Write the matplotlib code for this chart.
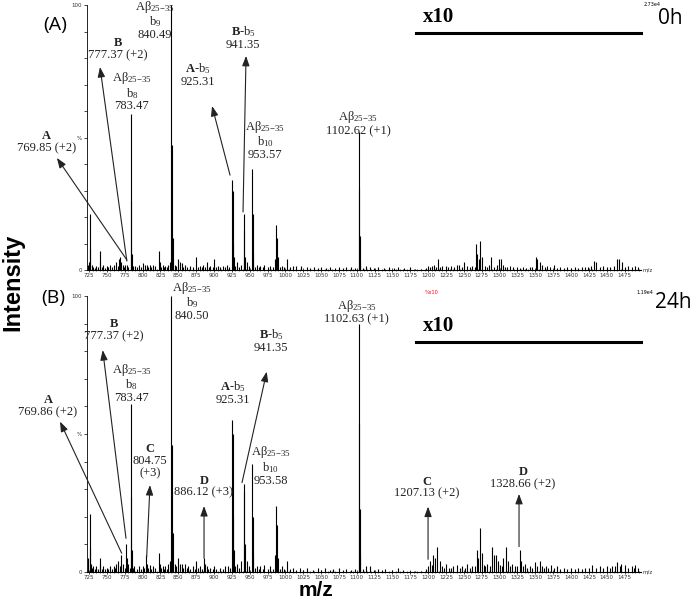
import matplotlib.pyplot as plt
import numpy as np

plt.rcParams['font.family'] = ['Liberation Serif', 'DejaVu Serif']
plt.rcParams['mathtext.fontset'] = 'custom'
plt.rcParams['mathtext.rm'] = 'Liberation Serif'
plt.rcParams['mathtext.it'] = 'Liberation Serif:italic'
plt.rcParams['mathtext.bf'] = 'Liberation Serif:bold'

# peak list (m/z, relative intensity %)
peaks_0h = [
    (723, 2), (725, 3), (726, 21), (727, 8), (729, 2), (735, 1.5), (740, 7), (741, 3),
    (745, 2), (750, 1.5), (755, 2), (760, 2), (763, 3), (767, 4), (769, 5), (770, 3),
    (772, 2), (776, 2), (778, 2), (783.5, 59), (784, 26), (785, 6), (790, 1.5), (795, 2),
    (800, 2.5), (803, 2), (806, 2), (810, 2), (815, 2), (823, 7), (824, 3), (828, 2),
    (832, 1.5), (836, 2), (838, 3), (840.5, 100), (841, 47), (842, 12), (845, 2),
    (850, 4), (852, 3), (855, 2.5), (860, 2), (866, 1.5), (875, 5), (880, 1.5),
    (885, 2), (890, 3), (895, 1.5), (900, 4), (905, 1.5), (912, 1.5), (918, 2),
    (925.3, 34), (926, 30), (927, 10), (928, 5), (932, 3), (938, 2), (941.4, 21),
    (942, 15), (943, 5), (946, 3), (953.6, 38), (954, 21), (955, 6), (960, 2),
    (965, 1.5), (970, 2), (978, 1.5), (985, 4), (987, 17), (988, 12), (989, 5),
    (995, 1.5), (1002, 4), (1010, 1.5), (1015, 1.5), (1022, 1.5), (1030, 1),
    (1040, 1), (1050, 1), (1063, 1), (1075, 1), (1085, 1), (1092, 1), (1102.6, 52),
    (1103, 31), (1104, 13), (1105, 3), (1113, 1.5), (1118, 1), (1130, 1), (1145, 1),
    (1158, 1), (1175, 1), (1190, 0.5), (1200, 1.5), (1205, 1.5), (1208, 2), (1214, 4),
    (1220, 1.5), (1225, 1.5), (1232, 1.5), (1240, 2), (1243, 2), (1250, 3), (1255, 1.5),
    (1262, 1.5), (1267, 10), (1269, 6), (1271, 4), (1273, 11), (1275, 5), (1285, 2),
    (1288, 5), (1296, 2), (1299, 4), (1302, 4), (1305, 2), (1315, 1.5), (1325, 1),
    (1333, 1), (1351, 5), (1353, 4), (1356, 3), (1360, 2), (1367, 1.5), (1376, 2),
    (1385, 1), (1395, 1), (1405, 1), (1415, 1), (1428, 1.5), (1432, 3.5), (1435, 3),
    (1445, 1.5), (1450, 1), (1460, 1.5), (1464, 4), (1467, 4), (1471, 3), (1480, 1.5),
    (1490, 1.5),
]
# low-level background bumps (0h)
noise_0h = [
    (724, 1), (731, 1.2), (733, 0.8), (737, 1), (743, 1.2), (748, 0.8), (752, 1),
    (757, 1.2), (765, 1.5), (774, 1.2), (780, 1), (787, 1.5), (792, 1), (798, 1),
    (808, 1.2), (812, 1), (818, 1.5), (826, 1.2), (830, 1), (834, 1), (847, 1.5),
    (857, 1.2), (862, 1), (870, 1), (878, 1.2), (883, 1), (888, 1), (893, 1),
    (898, 1), (903, 1), (908, 1), (915, 1), (921, 1.2), (930, 1.5), (935, 1.2),
    (949, 1.5), (957, 1.2), (963, 1), (968, 1), (975, 1), (982, 1), (992, 1),
    (998, 1), (1006, 1), (1035, 0.6), (1045, 0.6), (1057, 0.6), (1069, 0.6),
    (1080, 0.6), (1097, 0.8), (1108, 0.8), (1124, 0.6), (1138, 0.6), (1152, 0.6),
    (1166, 0.6), (1182, 0.4), (1197, 0.8), (1202, 1), (1211, 1.2), (1217, 1),
    (1228, 1), (1236, 1), (1247, 1.2), (1258, 1), (1265, 1.2), (1279, 1.5), (1282, 1.2),
    (1292, 1.2), (1308, 1.2), (1311, 1), (1319, 1), (1329, 0.8), (1337, 0.8),
    (1342, 1), (1346, 1.2), (1363, 1.2), (1371, 1), (1380, 0.8), (1390, 0.8),
    (1400, 0.8), (1410, 0.8), (1420, 1), (1424, 1), (1440, 1.2), (1455, 1),
    (1475, 1.2), (1485, 1), (1494, 1),
]

peaks_24h = [
    (724, 5), (726, 21), (727, 9), (728, 3), (731, 2), (735, 2), (740, 5), (741, 3),
    (745, 2), (750, 1.5), (755, 2), (760, 2), (763, 3), (766, 4), (769.9, 6), (770, 3),
    (773, 3), (777.4, 10), (778, 5), (780, 3), (783.5, 61), (784, 27), (785, 8),
    (788, 2), (795, 2), (800, 2), (804.8, 6), (806, 3), (810, 2.5), (815, 2), (823, 7),
    (824, 3), (828, 2), (832, 2), (836, 3), (838, 4), (840.5, 100), (841, 46), (842, 14),
    (845, 3), (850, 5), (852, 3), (855, 3), (860, 3), (864, 2), (870, 2), (875, 4),
    (880, 2), (886.1, 5), (887, 3), (890, 2), (895, 1.5), (900, 2), (908, 1.5),
    (915, 2), (919, 2), (925.3, 55), (926, 50), (927, 20), (928, 8), (932, 3), (938, 4),
    (941.4, 32), (942, 29), (943, 10), (946, 4), (953.6, 39), (954, 20), (955, 6),
    (960, 2), (965, 2), (970, 2.5), (978, 2), (985, 6), (987, 24), (988, 17), (989, 5),
    (995, 2), (1002, 4), (1010, 1.5), (1020, 1.5), (1030, 1.5), (1045, 1.5),
    (1055, 1.5), (1067, 1), (1075, 1.5), (1085, 1), (1102.6, 90), (1103, 54),
    (1104, 23), (1105, 6), (1113, 2), (1118, 2), (1130, 1), (1140, 1), (1158, 1.5),
    (1175, 0.5), (1190, 0.5), (1200, 2), (1203, 4), (1207, 6), (1210, 5), (1213, 9),
    (1216, 4), (1225, 3), (1235, 2), (1240, 2.5), (1248, 2), (1255, 3), (1262, 2),
    (1268, 8), (1270, 5), (1273, 16), (1275, 7), (1283, 3), (1289, 9), (1292, 6),
    (1295, 6), (1298, 4), (1305, 5), (1309, 9), (1312, 4), (1318, 3), (1322, 2),
    (1328.7, 8), (1330, 4), (1336, 3), (1342, 2), (1350, 3.5), (1356, 4), (1360, 2),
    (1365, 2), (1372, 2.5), (1380, 2), (1390, 1.5), (1400, 1.5), (1410, 1.5),
    (1420, 1.5), (1430, 2.5), (1440, 2), (1450, 2), (1458, 2), (1465, 3.5), (1470, 3),
    (1475, 2.5), (1485, 2), (1490, 2.5),
]
# low-level background bumps (24h)
noise_24h = [
    (729, 1.5), (733, 1.2), (737, 1.2), (743, 1.2), (748, 1), (752, 1.2), (757, 1.2),
    (762, 1.5), (768, 2), (775, 1.5), (782, 1.5), (787, 1.5), (792, 1.2), (798, 1.2),
    (802, 1.5), (808, 1.5), (812, 1.2), (818, 1.5), (826, 1.5), (830, 1.2), (834, 1.2),
    (847, 2), (857, 1.5), (862, 1.5), (867, 1.2), (873, 1.2), (878, 1.5), (883, 1.2),
    (892, 1.2), (898, 1), (903, 1), (912, 1), (922, 1.5), (930, 2), (935, 1.5),
    (949, 2), (957, 1.5), (963, 1.2), (968, 1.2), (975, 1.2), (982, 1.2), (992, 1.2),
    (998, 1), (1006, 1), (1015, 0.8), (1025, 0.8), (1038, 0.8), (1050, 0.8),
    (1062, 0.8), (1080, 0.8), (1092, 0.8), (1097, 1), (1108, 1), (1124, 0.8),
    (1135, 0.6), (1150, 0.6), (1165, 0.6), (1182, 0.4), (1197, 1), (1205, 2.5),
    (1219, 2), (1222, 1.5), (1229, 1.5), (1232, 1.5), (1244, 1.5), (1251, 1.5),
    (1258, 1.5), (1265, 2), (1278, 2.5), (1280, 2), (1286, 2), (1301, 2.5), (1303, 2),
    (1315, 2), (1325, 2), (1333, 2), (1339, 1.5), (1346, 1.5), (1353, 2), (1362, 1.5),
    (1368, 1.5), (1376, 1.5), (1385, 1.2), (1395, 1.2), (1405, 1.2), (1415, 1.2),
    (1425, 1.5), (1435, 1.5), (1445, 1.5), (1455, 1.5), (1462, 2), (1468, 2),
    (1480, 1.5), (1488, 1.5), (1494, 1.5),
]

x_ticks = list(range(725, 1476, 25))
ab = 'Aβ$_{25\\mathrm{-}35}$'

fig = plt.figure(figsize=(6.97, 6.0), dpi=100)
W, H = 697, 600
axA = fig.add_axes([87 / W, 330 / H, 554 / W, 265 / H])
axB = fig.add_axes([87 / W, 28 / H, 554 / W, 276 / H])


def style_axis(ax, peaks, noise):
    mz = np.array([p[0] for p in peaks + noise])
    inten = np.array([p[1] for p in peaks + noise])
    ax.vlines(mz, 0, inten, color='black', lw=0.8)
    ax.set_xlim(722.2, 1498)
    ax.set_ylim(0, 100)
    for s in ['top', 'right']:
        ax.spines[s].set_visible(False)
    ax.spines['left'].set_linewidth(0.6)
    ax.spines['bottom'].set_linewidth(0.8)
    ax.set_xticks(x_ticks)
    ax.set_xticklabels([str(t) for t in x_ticks], fontsize=4, family='DejaVu Sans', color='#333333')
    ax.set_xticks(range(725, 1496, 5), minor=True)
    ax.tick_params(axis='x', which='major', direction='inout', length=3, width=0.5, pad=1)
    ax.tick_params(axis='x', which='minor', direction='inout', length=1.5, width=0.4)
    ax.set_yticks(range(0, 101, 10))
    ylabs = [''] * 11
    ylabs[0], ylabs[5], ylabs[10] = '0', '%', '100'
    ax.set_yticklabels(ylabs, fontsize=4, family='DejaVu Sans', color='#333333')
    ax.tick_params(axis='y', direction='out', length=2.5, width=0.5, pad=1)
    ax.text(1500, 0, 'm/z', fontsize=4, family='DejaVu Sans', color='#333333', va='center')


def arrow(ax, tail, head):
    ax.annotate('', xy=head, xytext=tail, annotation_clip=False,
                arrowprops=dict(arrowstyle='-|>,head_length=0.6,head_width=0.22',
                                color='#222222', lw=0.8, shrinkA=0, shrinkB=0))


def label(ax, x, y, s):
    ax.text(x, y, s, ha='center', va='center', fontsize=9, linespacing=0.98, color='#222222')


style_axis(axA, peaks_0h, noise_0h)
style_axis(axB, peaks_24h, noise_24h)

# panel A annotations
label(axA, 666, 48.3, '$\\mathbf{A}$\n769.85 (+2)')
arrow(axA, (778, 3.8), (680, 42.3))
label(axA, 765.6, 83.4, '$\\mathbf{B}$\n777.37 (+2)')
arrow(axA, (778, 3.4), (740.4, 76.6))
label(axA, 785.2, 67.5, ab + '\nb$_8$\n783.47')
label(axA, 817.4, 94.3, ab + '\nb$_9$\n840.49')
label(axA, 877.7, 73.6, '$\\mathbf{A}$-b$_5$\n925.31')
arrow(axA, (922.5, 35.8), (897.3, 61.9))
label(axA, 940.7, 87.7, '$\\mathbf{B}$-b$_5$\n941.35')
arrow(axA, (940.7, 21.9), (944.9, 80.8))
label(axA, 971.5, 49.1, ab + '\nb$_{10}$\n953.57')
label(axA, 1101.7, 55.5, ab + '\n1102.62 (+1)')
axA.plot([1183, 1498], [89.4, 89.4], color='black', lw=2.2, clip_on=False)
axA.text(1193, 95.5, 'x10', fontsize=15, fontweight='bold', va='center', ha='left')

# panel B annotations
label(axB, 667.6, 60.1, '$\\mathbf{A}$\n769.86 (+2)')
arrow(axB, (770.8, 6.8), (684.4, 54.5))
label(axB, 760, 87.7, '$\\mathbf{B}$\n777.37 (+2)')
arrow(axB, (776.8, 12.2), (744.2, 80.4))
label(axB, 784.8, 68.5, ab + '\nb$_8$\n783.47')
label(axB, 869, 98.2, ab + '\nb$_9$\n840.50')
label(axB, 810.4, 40.2, '$\\mathbf{C}$\n804.75\n(+3)')
arrow(axB, (805.8, 5.5), (810.4, 31.5))
label(axB, 886, 31.0, '$\\mathbf{D}$\n886.12 (+3)')
arrow(axB, (886.1, 5.0), (886.1, 23.9))
label(axB, 926.7, 65.0, '$\\mathbf{A}$-b$_5$\n925.31')
label(axB, 980, 83.7, '$\\mathbf{B}$-b$_5$\n941.35')
arrow(axB, (939.3, 32.4), (973.9, 72.6))
label(axB, 979.5, 38.6, ab + '\nb$_{10}$\n953.58')
label(axB, 1100, 94.4, ab + '\n1102.63 (+1)')
label(axB, 1198.4, 30.6, '$\\mathbf{C}$\n1207.13 (+2)')
arrow(axB, (1199.8, 4.6), (1199.8, 23.7))
label(axB, 1332.8, 34.1, '$\\mathbf{D}$\n1328.66 (+2)')
arrow(axB, (1327.2, 9.2), (1327.2, 28.3))
axB.plot([1183, 1498], [83.2, 83.2], color='black', lw=2.2, clip_on=False)
axB.text(1193, 89.3, 'x10', fontsize=15, fontweight='bold', va='center', ha='left')

# figure-level text
sans = ['Open Sans', 'DejaVu Sans']
fig.text(55 / W, 1 - 25 / H, '(A)', fontsize=14, family=sans, ha='center', va='center')
fig.text(53 / W, 1 - 298 / H, '(B)', fontsize=14, family=sans, ha='center', va='center')
fig.text(670 / W, 1 - 18 / H, '0h', fontsize=15, family=sans, ha='center', va='center')
fig.text(673 / W, 1 - 303 / H, '24h', fontsize=15, family=sans, ha='center', va='center')
fig.text(652 / W, 1 - 4 / H, '2.73e4', fontsize=3.5, family='DejaVu Sans', ha='center', va='center')
fig.text(645 / W, 1 - 292 / H, '1.19e4', fontsize=3.5, family='DejaVu Sans', ha='center', va='center')
fig.text(432 / W, 1 - 293 / H, '%x10', fontsize=3.5, family='DejaVu Sans', color='red',
         ha='center', va='center')
fig.text(13 / W, 1 - 282 / H, 'Intensity', fontsize=17, fontweight='bold',
         family=['Liberation Sans', 'DejaVu Sans'], rotation=90, ha='center', va='center')
fig.text(316 / W, 1 - 596 / H, 'm/z', fontsize=15, fontweight='bold',
         family=['Liberation Sans', 'DejaVu Sans'], ha='center', va='baseline')

fig.savefig('out.png', dpi=100)
